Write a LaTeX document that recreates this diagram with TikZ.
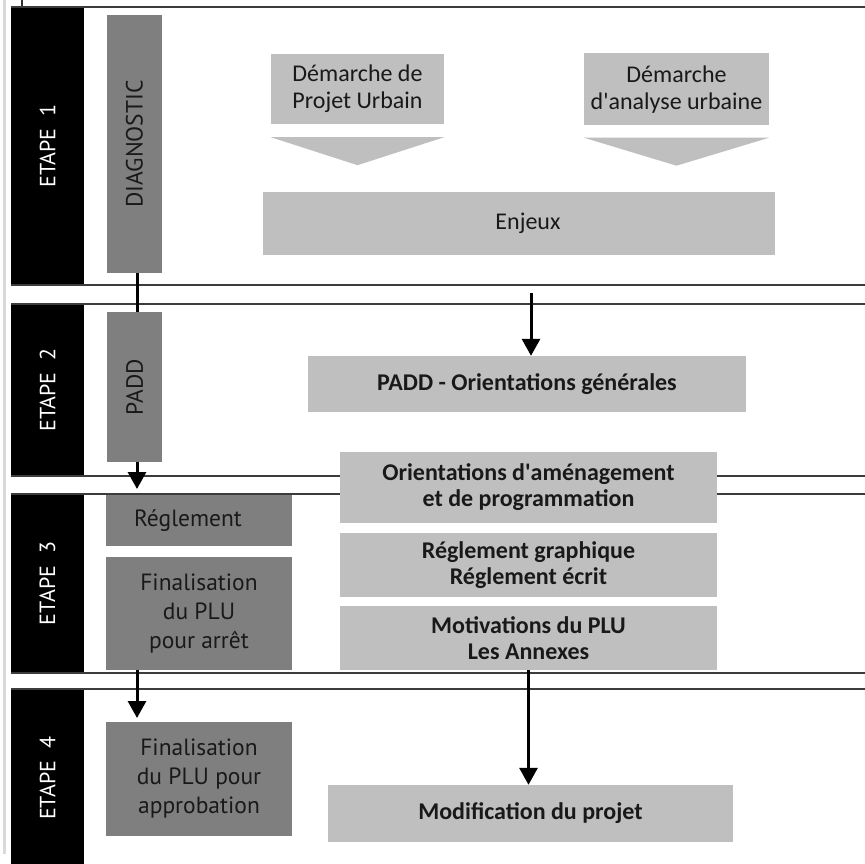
\documentclass[tikz,border=0pt]{standalone}
\usepackage{fontspec}
\setmainfont{Carlito}
\newfontfamily\ptsans{PT Sans}
\usepackage{tikz}
\usetikzlibrary{arrows.meta}
\definecolor{darkfill}{HTML}{7F7F7F}
\definecolor{lightfill}{HTML}{BFBFBF}
\definecolor{rulegray}{HTML}{3C3C3C}
\tikzstyle{stagelabel} = [rotate=90, text=white, font=\ptsans\fontsize{22}{25}\selectfont]
\tikzstyle{darkbox} = [fill=darkfill, text=black!90, inner sep=0pt, align=center, font=\ptsans\fontsize{23.5}{29}\selectfont]
\tikzstyle{lightbox} = [fill=lightfill, text=black!90, inner sep=0pt, align=center, font=\fontsize{24}{27}\selectfont]
\tikzstyle{boldbox} = [lightbox, font=\bfseries\fontsize{24}{26}\selectfont]
\tikzstyle{arrow} = [line width=3pt, -{Triangle[width=18pt,length=17pt]}]
\tikzstyle{frame} = [rulegray, line width=1.5pt]

\begin{document}
\begin{tikzpicture}[x=1pt,y=-1pt]
\useasboundingbox (0,0) rectangle (865,864);
\draw[line width=3pt, black!15] (4.5,0) -- (4.5,854);
\draw[line width=2pt, black!80] (22,0) -- (22,7);

% stages
\foreach \n/\top/\bot in {1/7/285, 2/304/476, 3/494/673, 4/689/867}{
  \fill (11,\top) rectangle (84,\bot);
  \draw[frame] (11,\top) -- (865,\top);
  \draw[frame] (11,\bot) -- (865,\bot);
  \node[stagelabel] (etape\n) at (47.5,{(\top+\bot)/2}) {ETAPE\hspace{0.55em}\n};
}

% left column
\node[darkbox, rotate=90, minimum width=258pt, minimum height=55pt] (diag) at (134.5,144) {DIAGNOSTIC};
\node[darkbox, rotate=90, minimum width=150pt, minimum height=55pt] (padd) at (134.5,387) {PADD};
\node[darkbox, minimum width=186pt, minimum height=51pt] (regl) at (199,520.5) {Réglement\hspace*{22pt}};
\node[darkbox, minimum width=186pt, minimum height=113pt] (finarret) at (199,613.5) {Finalisation\\du PLU\\pour arrêt};
\node[darkbox, minimum width=186pt, minimum height=114pt] (finappro) at (199,779) {Finalisation\\du PLU pour\\approbation};

% right column
\node[lightbox, minimum width=173pt, minimum height=70pt] (projet) at (357.5,89) {Démarche de\\Projet Urbain};
\node[lightbox, minimum width=185pt, minimum height=72pt] (analyse) at (676.5,89.5) {Démarche\\d\textquotesingle analyse urbaine};
\fill[lightfill] ([yshift=-13pt]projet.south west) -- ([yshift=-13pt]projet.south east) -- ([yshift=-41pt]projet.south) -- cycle;
\fill[lightfill] ([yshift=-12pt]analyse.south west) -- ([yshift=-12pt]analyse.south east) -- ([yshift=-40pt]analyse.south) -- cycle;
\node[lightbox, minimum width=512pt, minimum height=63pt] (enjeux) at (519,223.5) {\hspace*{18pt}Enjeux};
\node[boldbox, minimum width=438pt, minimum height=56pt] (orient) at (527,384) {PADD - Orientations générales};
\node[boldbox, minimum width=377pt, minimum height=71pt] (oap) at (528.5,487.5) {Orientations d\textquotesingle aménagement\\et de programmation};
\node[boldbox, minimum width=377pt, minimum height=64pt] (reglgr) at (528.5,565) {Réglement graphique\\Réglement écrit};
\node[boldbox, minimum width=377pt, minimum height=64pt] (motiv) at (528.5,638) {Motivations du PLU\\Les Annexes};
\node[boldbox, minimum width=405pt, minimum height=57pt] (modif) at (530.5,813.5) {Modification du projet};

% connectors
\coordinate (in2) at (531,293);
\coordinate (in3) at (137,489);
\coordinate (in4) at (137,718);
\draw[line width=3pt] ([xshift=2.5pt]diag.west) -- ([xshift=2.5pt]padd.east);
\draw[arrow] ([xshift=2.5pt]padd.west) -- (in3);
\draw[arrow] (finarret.south -| in4) -- (in4);
\draw[arrow] (in2) -- (in2 |- orient.north);
\draw[arrow] (motiv.south) -- (motiv.south |- modif.north);
\end{tikzpicture}
\end{document}
